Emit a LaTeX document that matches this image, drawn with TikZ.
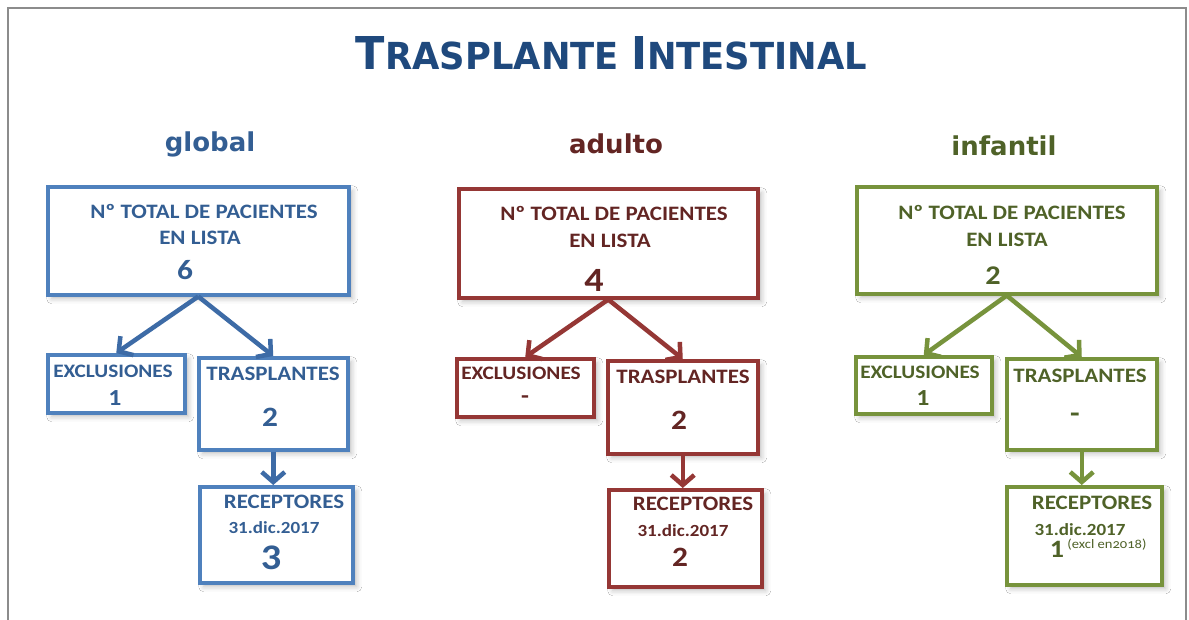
\documentclass[tikz,border=0pt]{standalone}
\usepackage{fontspec}
\usepackage{graphicx}
\usetikzlibrary{arrows.meta,shadows.blur}
\newfontfamily\calfont[FakeStretch=1.12]{Carlito}
\newfontfamily\verfont{DejaVu Sans}
\definecolor{titleC}{HTML}{1F497D}
\definecolor{bBox}{HTML}{4F81BD}
\definecolor{bArr}{HTML}{3D6BA6}
\definecolor{bTxt}{HTML}{335E93}
\definecolor{rBox}{HTML}{953735}
\definecolor{rTxt}{HTML}{632523}
\definecolor{gBox}{HTML}{77933C}
\definecolor{gTxt}{HTML}{4F6228}
\definecolor{frameC}{HTML}{8C8C8C}
\newcommand\mkbox[6]{\node[box,draw=#6,minimum width={#4-#2},minimum height={#5-#3}] (#1) at (#2,#3) {};}
\begin{document}
\begin{tikzpicture}[x=1pt,y=-1pt,
  box/.style={line width=3.5pt,fill=white,inner sep=0pt,anchor=north west,
    blur shadow={shadow xshift=4pt,shadow yshift=-4pt,shadow blur radius=5pt,shadow opacity=25}},
  arr/.style={line width=4.5pt,line join=round,-{Straight Barb[length=10pt,width=23pt]}},
  txt/.style={inner sep=0pt,font=\calfont\bfseries\fontsize{20.5}{20.5}\selectfont},
  excl/.style={inner sep=0pt,font=\calfont\bfseries\fontsize{19}{19}\selectfont},
  small/.style={inner sep=0pt,font=\calfont\bfseries\fontsize{17}{17}\selectfont},
  num/.style={inner sep=0pt,font=\calfont\bfseries\fontsize{#1}{#1}\selectfont},
  head/.style={inner sep=0pt,font=\verfont\bfseries\fontsize{26}{26}\selectfont}]
\useasboundingbox (0,0) rectangle (1189,619);
\fill[white] (0,0) rectangle (1189,619);
\draw[frameC,line width=2pt] (7.5,625) -- (7.5,8) -- (1186,8) -- (1186,625);

\node[inner sep=0pt,text=titleC] (title) at (611.5,53.5)
  {\resizebox{511pt}{33pt}{\verfont\bfseries\fontsize{45}{45}\selectfont T\fontsize{37}{37}\selectfont RASPLANTE \fontsize{45}{45}\selectfont I\fontsize{37}{37}\selectfont NTESTINAL}};

% ---------- global ----------
\node[head,text=bTxt] (hg) at (210,144) {global};
\mkbox{gtop}{46}{185}{347}{293}{bBox}
\mkbox{gexc}{46}{353}{183}{411}{bBox}
\mkbox{gtr}{197}{356}{346}{448}{bBox}
\mkbox{grec}{198}{485}{351}{581}{bBox}
\draw[arr,bArr] (gtop.south) -- (gexc.north);
\draw[arr,bArr] (gtop.south) -- (gtr.north);
\draw[arr,bArr] (gtr.south) -- (gtr.south |- grec.north);
\node[txt,text=bTxt] (g1) at (204,211) {Nº TOTAL DE PACIENTES};
\node[txt,text=bTxt] (g2) at (200,238) {EN LISTA};
\node[num=28,text=bTxt] (g3) at (185,270) {6};
\node[excl,text=bTxt] (g4) at (113,371) {EXCLUSIONES};
\node[num=23,text=bTxt] (g5) at (115,398) {1};
\node[txt,text=bTxt] (g6) at (273,374) {TRASPLANTES};
\node[num=28,text=bTxt] (g7) at (270,417) {2};
\node[txt,text=bTxt] (g8) at (284,502) {RECEPTORES};
\node[small,text=bTxt] (g9) at (274,528) {31.dic.2017};
\node[num=36,text=bTxt] (g10) at (271,558) {3};

% ---------- adulto ----------
\node[head,text=rTxt] (ha) at (616,144) {adulto};
\mkbox{atop}{457}{187}{756}{296}{rBox}
\mkbox{aexc}{455}{357}{592}{415}{rBox}
\mkbox{atr}{606}{359}{756}{452}{rBox}
\mkbox{arec}{607}{488}{760}{585}{rBox}
\draw[arr,rBox] (atop.south) -- (aexc.north);
\draw[arr,rBox] (atop.south) -- (atr.north);
\draw[arr,rBox] (atr.south) -- (atr.south |- arec.north);
\node[txt,text=rTxt] (a1) at (614,213) {Nº TOTAL DE PACIENTES};
\node[txt,text=rTxt] (a2) at (610,241) {EN LISTA};
\node[num=34,text=rTxt] (a3) at (594,280) {4};
\node[excl,text=rTxt] (a4) at (521,373) {EXCLUSIONES};
\node[num=23,text=rTxt] (a5) at (525,400) {-};
\node[txt,text=rTxt] (a6) at (683,377) {TRASPLANTES};
\node[num=28,text=rTxt] (a7) at (679,420) {2};
\node[txt,text=rTxt] (a8) at (693,504) {RECEPTORES};
\node[small,text=rTxt] (a9) at (683,531) {31.dic.2017};
\node[num=28,text=rTxt] (a10) at (680,557) {2};

% ---------- infantil ----------
\node[head,text=gTxt] (hi) at (1004,146) {infantil};
\mkbox{itop}{855}{185}{1155}{292}{gBox}
\mkbox{iexc}{854}{355}{990}{412}{gBox}
\mkbox{itr}{1005}{357}{1155}{448}{gBox}
\mkbox{irec}{1005}{485}{1160}{583}{gBox}
\draw[arr,gBox] (itop.south) -- (iexc.north);
\draw[arr,gBox] (itop.south) -- (itr.north);
\draw[arr,gBox] (itr.south) -- (itr.south |- irec.north);
\node[txt,text=gTxt] (i1) at (1012,212) {Nº TOTAL DE PACIENTES};
\node[txt,text=gTxt] (i2) at (1007,240) {EN LISTA};
\node[num=27,text=gTxt] (i3) at (993,276) {2};
\node[excl,text=gTxt] (i4) at (920,372) {EXCLUSIONES};
\node[num=23,text=gTxt] (i5) at (923,398) {1};
\node[txt,text=gTxt] (i6) at (1080,376) {TRASPLANTES};
\node[num=28,text=gTxt] (i7) at (1075,418) {-};
\node[txt,text=gTxt] (i8) at (1092,503) {RECEPTORES};
\node[small,text=gTxt] (i9) at (1080,530) {31.dic.2017};
\node[num=25,text=gTxt] (i10) at (1057,549) {1};
\node[inner sep=0pt,text=gTxt,font=\calfont\fontsize{13}{13}\selectfont\addfontfeature{Numbers=OldStyle}] (i11) at (1107,545) {(excl en2018)};
\end{tikzpicture}
\end{document}
